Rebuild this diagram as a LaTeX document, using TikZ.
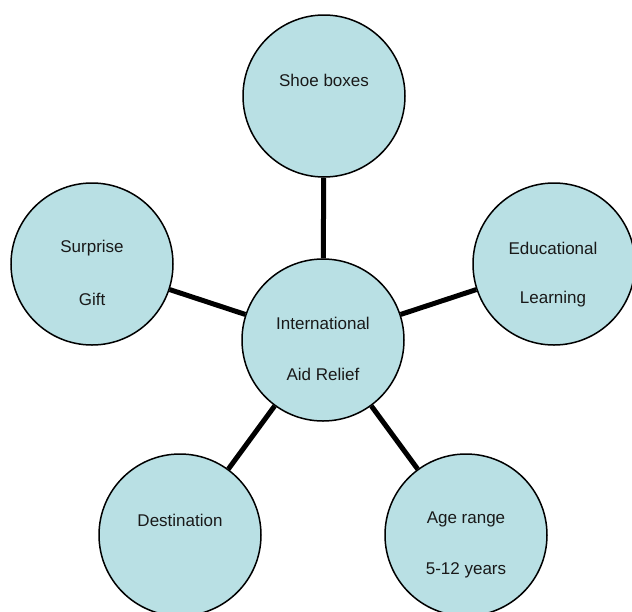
\documentclass[tikz,border=0pt]{standalone}
\usepackage{fontspec}
\setmainfont{Liberation Sans}
\definecolor{bubble}{RGB}{185,224,228}
\tikzset{
  bubble/.style={circle, draw=black, line width=1.5pt, fill=bubble, minimum size=162pt, inner sep=0pt},
  link/.style={line width=5pt, draw=black},
  lbl/.style={font=\fontsize{17}{20}\selectfont, text=black!90, inner sep=0pt, anchor=center}
}
\begin{document}
\begin{tikzpicture}[x=1pt,y=-1pt]
\useasboundingbox (0,0) rectangle (632,611);
\clip (0,0) rectangle (632,611);
\node[bubble] (c)  at (323,340) {};
\node[bubble] (t)  at (324,96) {};
\node[bubble] (l)  at (92,264) {};
\node[bubble] (r)  at (554,264) {};
\node[bubble] (bl) at (180,535) {};
\node[bubble] (br) at (466,535) {};
\draw[link] (c) -- (t);
\draw[link] (c) -- (l);
\draw[link] (c) -- (r);
\draw[link] (c) -- (bl);
\draw[link] (c) -- (br);
\node[lbl] (c1) at (323,323) {International};
\node[lbl] (c2) at (323,374) {Aid Relief};
\node[lbl] (t1) at (324,80) {Shoe boxes};
\node[lbl] (l1) at (92,248) {Surprise};
\node[lbl] (l2) at (92,299) {Gift};
\node[lbl] (r1) at (553,248) {Educational};
\node[lbl] (r2) at (553,299) {Learning};
\node[lbl] (bl1) at (180,520) {Destination};
\node[lbl] (br1) at (466,519) {Age range};
\node[lbl] (br2) at (466,570) {5-12 years};
\end{tikzpicture}
\end{document}
